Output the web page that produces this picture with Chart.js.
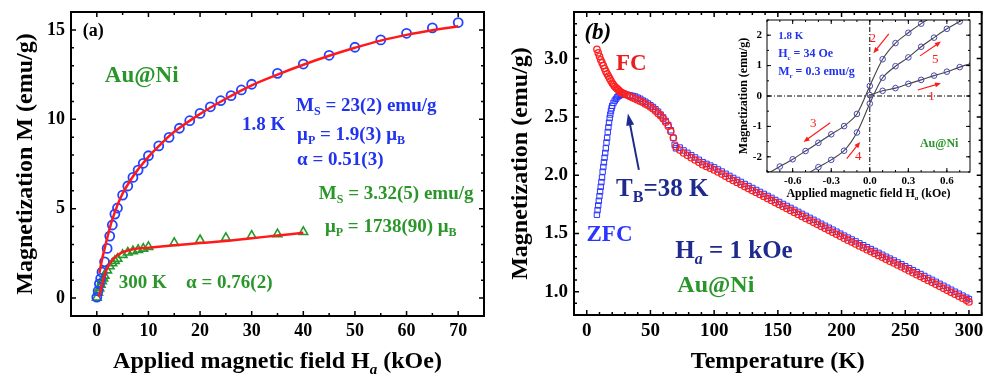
<!DOCTYPE html>
<html>
<head>
<meta charset="utf-8">
<script src="https://cdn.jsdelivr.net/npm/chart.js@4.4.1/dist/chart.umd.min.js"></script>
<style>
html, body { margin: 0; padding: 0; background: #fff; }
#wrap { position: relative; width: 987px; height: 376px; overflow: hidden; }
canvas { position: absolute; }
</style>
</head>
<body>
<div id="wrap">
  <canvas id="panelA" width="495" height="376" style="left:0px;top:0px"></canvas>
  <canvas id="panelB" width="492" height="376" style="left:495px;top:0px"></canvas>
  <canvas id="inset" width="257" height="205" style="left:730px;top:0px"></canvas>
</div>
<script>
// ---- panel (a): M vs H ----
const field18 = [0, 0.25, 0.5, 0.75, 1, 1.5, 2, 2.5, 3, 3.5, 4, 5, 6, 7, 8, 9, 10, 12, 14, 16, 18, 20, 22, 24, 26, 28, 30, 35, 40, 45, 50, 55, 60, 65, 70]
const mag18 = [0.05, 0.4, 0.8, 1.1, 1.45, 2.03, 2.78, 3.47, 4.09, 4.7, 5.04, 5.76, 6.27, 6.75, 7.16, 7.54, 7.96, 8.51, 8.99, 9.5, 9.92, 10.33, 10.7, 11.04, 11.32, 11.64, 11.96, 12.57, 13.09, 13.58, 14.03, 14.44, 14.81, 15.11, 15.41]
const fitField18 = [0.5, 1, 1.5, 2, 2.5, 3, 4, 5, 6, 7, 8, 10, 12, 15, 20, 25, 30, 35, 40, 45, 50, 55, 60, 65, 70]
const fitMag18 = [1.4, 2.15, 2.75, 3.35, 3.9, 4.4, 5.2, 5.85, 6.35, 6.8, 7.2, 7.9, 8.5, 9.3, 10.3, 11.15, 11.9, 12.5, 13.05, 13.55, 14.0, 14.4, 14.72, 14.98, 15.2]

const field300 = [0, 0.25, 0.5, 0.75, 1, 1.25, 1.5, 2, 2.5, 3, 3.5, 4, 5, 6, 7, 8, 9, 10, 15, 20, 25, 30, 35, 40]
const mag300 = [0.03, 0.3, 0.55, 0.75, 0.95, 1.1, 1.25, 1.55, 1.78, 1.95, 2.08, 2.2, 2.42, 2.55, 2.63, 2.7, 2.77, 2.86, 3.09, 3.25, 3.37, 3.49, 3.58, 3.7]
const fitField300 = [0.4, 0.9, 1.4, 1.9, 2.5, 3.5, 4.8, 7, 10, 15, 20, 25, 30, 35, 40]
const fitMag300 = [0.07, 0.63, 1.19, 1.6, 1.94, 2.28, 2.54, 2.73, 2.82, 2.95, 3.08, 3.2, 3.35, 3.5, 3.65]

const ticksAx = [0, 10, 20, 30, 40, 50, 60, 70]
const ticksAy = [0, 5, 10, 15]

// ---- panel (b): FC / ZFC ----
const tempFC = [8, 9, 10, 11, 12, 13, 14, 15, 16, 17, 18, 19, 20, 21, 22, 23, 24, 25, 26, 27, 28, 29, 30,
  32, 34, 36, 38, 40, 42, 44, 46, 48, 50, 52, 54, 56, 58, 60, 62, 64, 66, 68, 70]
const magFC = [3.08, 3.05, 3.02, 2.99, 2.965, 2.94, 2.915, 2.89, 2.87, 2.85, 2.83, 2.81, 2.79, 2.775, 2.76, 2.75, 2.74, 2.73, 2.72, 2.71, 2.705, 2.70, 2.695,
  2.685, 2.675, 2.665, 2.655, 2.645, 2.635, 2.625, 2.61, 2.60, 2.585, 2.57, 2.55, 2.53, 2.51, 2.485, 2.455, 2.42, 2.375, 2.32, 2.245]
const tempZFC = [8, 8.5, 9, 9.5, 10, 10.5, 11, 11.5, 12, 12.5, 13, 13.5, 14, 14.5, 15, 15.5, 16, 16.5, 17, 17.5, 18, 18.5, 19, 19.5, 20,
  21, 22, 23, 24, 25, 26, 27, 28, 29, 30,
  32, 34, 36, 38, 40, 42, 44, 46, 48, 50, 52, 54, 56, 58, 60, 62, 64, 66, 68, 69, 70]
const magZFC = [1.66, 1.70, 1.74, 1.78, 1.82, 1.86, 1.9, 1.94, 1.98, 2.03, 2.07, 2.11, 2.15, 2.19, 2.23, 2.28, 2.32, 2.37, 2.41, 2.45, 2.49, 2.52, 2.55, 2.575, 2.595,
  2.62, 2.64, 2.655, 2.67, 2.68, 2.685, 2.69, 2.695, 2.695, 2.695,
  2.69, 2.685, 2.68, 2.675, 2.665, 2.655, 2.64, 2.63, 2.615, 2.6, 2.585, 2.565, 2.545, 2.52, 2.495, 2.465, 2.43, 2.385, 2.32, 2.26, 2.23]

const tempHigh = [73, 76, 79, 82, 85, 88, 91, 94, 97, 100,
  103, 106, 109, 112, 115, 118, 121, 124, 127, 130,
  133, 136, 139, 142, 145, 148, 151, 154, 157, 160,
  163, 166, 169, 172, 175, 178, 181, 184, 187, 190,
  193, 196, 199, 202, 205, 208, 211, 214, 217, 220,
  223, 226, 229, 232, 235, 238, 241, 244, 247, 250,
  253, 256, 259, 262, 265, 268, 271, 274, 277, 280,
  283, 286, 289, 292, 295, 298, 300]
const magFCHigh = [2.215, 2.19, 2.17, 2.15, 2.13, 2.11, 2.09, 2.075, 2.06, 2.045,
  2.027, 2.009, 1.99, 1.972, 1.954, 1.937, 1.92, 1.902, 1.885, 1.868,
  1.851, 1.834, 1.817, 1.8, 1.783, 1.765, 1.748, 1.731, 1.714, 1.697,
  1.68, 1.663, 1.646, 1.629, 1.612, 1.595, 1.578, 1.561, 1.544, 1.527,
  1.51, 1.493, 1.476, 1.459, 1.442, 1.426, 1.41, 1.393, 1.377, 1.36,
  1.344, 1.328, 1.311, 1.295, 1.278, 1.262, 1.246, 1.229, 1.213, 1.196,
  1.18, 1.163, 1.146, 1.13, 1.113, 1.096, 1.08, 1.063, 1.046, 1.029,
  1.012, 0.995, 0.978, 0.961, 0.944, 0.927, 0.912]
const magZFCHigh = [2.237, 2.212, 2.192, 2.172, 2.152, 2.132, 2.112, 2.097, 2.082, 2.067,
  2.049, 2.031, 2.012, 1.994, 1.976, 1.959, 1.942, 1.924, 1.907, 1.89,
  1.873, 1.856, 1.839, 1.822, 1.805, 1.787, 1.77, 1.753, 1.736, 1.719,
  1.702, 1.685, 1.668, 1.651, 1.634, 1.617, 1.6, 1.583, 1.566, 1.549,
  1.532, 1.515, 1.498, 1.481, 1.464, 1.448, 1.432, 1.415, 1.399, 1.382,
  1.366, 1.35, 1.333, 1.317, 1.3, 1.284, 1.268, 1.251, 1.235, 1.218,
  1.202, 1.185, 1.168, 1.152, 1.135, 1.118, 1.102, 1.085, 1.068, 1.051,
  1.034, 1.017, 1.0, 0.983, 0.966, 0.949, 0.937]

const ticksBx = [0, 50, 100, 150, 200, 250, 300]
const ticksBy = [1.0, 1.5, 2.0, 2.5, 3.0]

// ---- inset: hysteresis loop at 1.8 K ----
const loopField1 = [0, 0.1, 0.2, 0.3, 0.4, 0.5, 0.6, 0.7, 0.8]
const loopMag1 = [0.03, 0.17, 0.26, 0.4, 0.53, 0.67, 0.8, 0.95, 1.08]
const loopField2 = [0.5, 0.4, 0.3, 0.2, 0.1, 0, -0.1, -0.2, -0.3, -0.4, -0.5, -0.6, -0.7, -0.8]
const loopMag2 = [2.65, 2.38, 2.08, 1.74, 1.21, 0.33, -0.59, -0.99, -1.26, -1.54, -1.81, -2.08, -2.32, -2.56]
const loopField3 = [-0.5, -0.4, -0.3, -0.2, -0.1, 0, 0.1, 0.2, 0.3, 0.4, 0.5, 0.6, 0.7, 0.8]
const loopMag3 = [-2.6, -2.34, -2.1, -1.8, -1.2, -0.25, 0.6, 0.98, 1.27, 1.62, 1.92, 2.21, 2.45, 2.7]

const ticksIx = [-0.6, -0.3, 0, 0.3, 0.6]
const ticksIy = [-2, -1, 0, 1, 2]

const SERIF = '"Liberation Serif", "Times New Roman", serif'
const RED = '#ff1a1a'
const BLUE = '#2233ee'
const GREEN = '#2a962a'
const NAVY = '#1f2a8f'

Chart.defaults.font.family = SERIF
Chart.defaults.color = '#000'

const pairs = (xs, ys) => xs.map((v, i) => ({ x: v, y: ys[i] }))

// text with _{sub} and _[italic sub]
function richParts(str) {
    const parts = []
    const re = /_\{([^}]*)\}|_\[([^\]]*)\]/g
    let last = 0, m
    while ((m = re.exec(str)) !== null) {
        if (m.index > last) parts.push({ t: str.slice(last, m.index) })
        if (m[1] !== undefined) parts.push({ t: m[1], sub: true })
        else parts.push({ t: m[2], sub: true, italic: true })
        last = re.lastIndex
    }
    if (last < str.length) parts.push({ t: str.slice(last) })
    return parts
}

function fontFor(p, n) {
    const size = p.sub ? Math.round(n.size * 0.62) : n.size
    const style = (p.italic || n.italic) ? 'italic ' : ''
    return `${style}${n.weight || 'bold'} ${size}px ${SERIF}`
}

function drawRich(ctx, n, x, y) {
    const parts = richParts(n.text)
    let w = 0
    parts.forEach(p => { ctx.font = fontFor(p, n); p.w = ctx.measureText(p.t).width; w += p.w })
    let cx = n.align === 'center' ? x - w / 2 : x
    ctx.fillStyle = n.color || '#000'
    ctx.textAlign = 'left'
    ctx.textBaseline = 'middle'
    parts.forEach(p => {
        ctx.font = fontFor(p, n)
        ctx.fillText(p.t, cx, p.sub ? y + n.size * 0.32 : y)
        cx += p.w
    })
}

function drawArrow(ctx, x1, y1, x2, y2, a) {
    const ang = Math.atan2(y2 - y1, x2 - x1)
    const L = a.head, W = a.headWidth
    const c = Math.cos(ang), s = Math.sin(ang)
    ctx.strokeStyle = a.color
    ctx.fillStyle = a.color
    ctx.lineWidth = a.width
    ctx.beginPath()
    ctx.moveTo(x1, y1)
    ctx.lineTo(x2 - L * 0.7 * c, y2 - L * 0.7 * s)
    ctx.stroke()
    ctx.beginPath()
    ctx.moveTo(x2, y2)
    ctx.lineTo(x2 - L * c + W * s, y2 - L * s - W * c)
    ctx.lineTo(x2 - L * c - W * s, y2 - L * s + W * c)
    ctx.closePath()
    ctx.fill()
}

function steps(min, max, step) {
    const out = []
    for (let v = Math.ceil(min / step - 1e-9) * step; v <= max + 1e-9; v += step) out.push(v)
    return out
}

const framePlugin = {
    id: 'frame',
    beforeDraw(chart, args, o) {
        if (!o.fill) return
        const a = chart.chartArea
        chart.ctx.save()
        chart.ctx.fillStyle = o.fill
        chart.ctx.fillRect(a.left, a.top, a.right - a.left, a.bottom - a.top)
        chart.ctx.restore()
    },
    afterDraw(chart, args, o) {
        const { ctx, chartArea: a, scales: { x, y } } = chart
        ctx.save()
        ctx.strokeStyle = '#000'
        ctx.lineWidth = o.tickWidth
        ctx.beginPath()
        const tx = (v, len) => {
            const p = x.getPixelForValue(v)
            ctx.moveTo(p, a.bottom); ctx.lineTo(p, a.bottom - len)
            ctx.moveTo(p, a.top); ctx.lineTo(p, a.top + len)
        }
        const ty = (v, len) => {
            const p = y.getPixelForValue(v)
            ctx.moveTo(a.left, p); ctx.lineTo(a.left + len, p)
            ctx.moveTo(a.right, p); ctx.lineTo(a.right - len, p)
        }
        steps(x.min, x.max, o.xMinor).forEach(v => tx(v, o.minor))
        steps(y.min, y.max, o.yMinor).forEach(v => ty(v, o.minor))
        x.ticks.forEach(t => tx(t.value, o.major))
        y.ticks.forEach(t => ty(t.value, o.major))
        ctx.stroke()
        ctx.lineWidth = o.lineWidth
        ctx.strokeRect(a.left, a.top, a.right - a.left, a.bottom - a.top)
        ctx.restore()
    }
}

const notesPlugin = {
    id: 'notes',
    afterDraw(chart, args, o) {
        const { ctx, chartArea: a, scales: { x, y } } = chart
        ctx.save();
        (o.arrows || []).forEach(ar => {
            drawArrow(ctx, x.getPixelForValue(ar.from[0]), y.getPixelForValue(ar.from[1]),
                x.getPixelForValue(ar.to[0]), y.getPixelForValue(ar.to[1]), ar)
        });
        (o.labels || []).forEach(n => drawRich(ctx, n, x.getPixelForValue(n.x), y.getPixelForValue(n.y)));
        (o.titles || []).forEach(n => drawRich(ctx, n, (a.left + a.right) / 2, a.bottom + n.below))
        ctx.restore()
    }
}

function axis(o) {
    return {
        type: 'linear',
        min: o.min,
        max: o.max,
        afterBuildTicks: s => { s.ticks = o.ticks.map(v => ({ value: v })) },
        afterFit: s => {
            if (o.height !== undefined) s.height = o.height
            if (o.width !== undefined) s.width = o.width
            s.paddingLeft = 0; s.paddingRight = 0; s.paddingTop = 0; s.paddingBottom = 0
        },
        grid: { display: false, drawTicks: false },
        border: { display: false },
        ticks: {
            autoSkip: false, maxRotation: 0, color: '#000', padding: o.pad,
            font: { size: o.font, weight: 'bold' },
            callback: o.fmt
        },
        title: o.title ? {
            display: true, text: o.title, color: '#000',
            font: { size: o.titleSize, weight: 'bold' },
            padding: o.titlePad
        } : { display: false }
    }
}

const base = {
    responsive: false,
    animation: false,
    devicePixelRatio: 1,
    events: []
}

// panel (a)
new Chart(document.getElementById('panelA'), {
    type: 'scatter',
    data: {
        datasets: [
            { data: pairs(fitField18, fitMag18), showLine: true, borderColor: RED, borderWidth: 2.5, pointRadius: 0, tension: 0.4 },
            { data: pairs(fitField300, fitMag300), showLine: true, borderColor: RED, borderWidth: 2.5, pointRadius: 0, tension: 0.4 },
            { data: pairs(field18, mag18), pointStyle: 'circle', pointRadius: 4.5, borderColor: '#2244ff', pointBorderWidth: 1.8, backgroundColor: 'rgba(0,0,0,0)' },
            { data: pairs(field300, mag300), pointStyle: 'triangle', pointRadius: 5, borderColor: '#22992a', pointBorderWidth: 1.6, backgroundColor: 'rgba(0,0,0,0)' }
        ]
    },
    options: {
        ...base,
        layout: { padding: { left: 0, top: 12, right: 11, bottom: 0 } },
        scales: {
            x: axis({ min: -5, max: 75, ticks: ticksAx, height: 60, pad: 5, font: 18, fmt: v => v }),
            y: axis({ min: -1, max: 16, ticks: ticksAy, width: 71, pad: 6, font: 18, fmt: v => v,
                title: 'Magnetization M (emu/g)', titleSize: 24, titlePad: { top: 11.6, bottom: 0 } })
        },
        plugins: {
            legend: { display: false },
            tooltip: { enabled: false },
            frame: { lineWidth: 2, tickWidth: 1.5, major: 5, minor: 3, xMinor: 5, yMinor: 1 },
            notes: {
                labels: [
                    { text: '(a)', x: -2.7, y: 14.94, size: 18, color: '#000' },
                    { text: 'Au@Ni', x: 1.55, y: 12.42, size: 23, color: GREEN },
                    { text: '1.8 K', x: 28.1, y: 9.68, size: 19, color: BLUE },
                    { text: 'M_{S} = 23(2) emu/g', x: 38.6, y: 10.74, size: 19, color: BLUE },
                    { text: 'μ_{P} = 1.9(3) μ_{B}', x: 38.8, y: 9.12, size: 19, color: BLUE },
                    { text: 'α = 0.51(3)', x: 38.8, y: 7.72, size: 19, color: BLUE },
                    { text: 'M_{S} = 3.32(5) emu/g', x: 43.0, y: 5.82, size: 19, color: GREEN },
                    { text: 'μ_{P} = 1738(90) μ_{B}', x: 44.2, y: 3.97, size: 19, color: GREEN },
                    { text: '300 K', x: 4.27, y: 0.84, size: 19, color: GREEN },
                    { text: 'α = 0.76(2)', x: 17.3, y: 0.84, size: 19, color: GREEN }
                ],
                titles: [
                    { text: 'Applied magnetic field H_[a] (kOe)', size: 24, align: 'center', below: 46 }
                ]
            }
        }
    },
    plugins: [framePlugin, notesPlugin]
})

// panel (b)
new Chart(document.getElementById('panelB'), {
    type: 'scatter',
    data: {
        datasets: [
            { data: pairs(tempFC.concat(tempHigh), magFC.concat(magFCHigh)), pointStyle: 'circle', pointRadius: 3.2, borderColor: '#ff2020', pointBorderWidth: 1.3, backgroundColor: 'rgba(0,0,0,0)' },
            { data: pairs(tempZFC.concat(tempHigh), magZFC.concat(magZFCHigh)), pointStyle: 'rect', pointRadius: 3.8, borderColor: '#2a35ff', pointBorderWidth: 1, backgroundColor: 'rgba(0,0,0,0)' }
        ]
    },
    options: {
        ...base,
        layout: { padding: { left: 0, top: 12, right: 1, bottom: 0 } },
        scales: {
            x: axis({ min: -10, max: 310, ticks: ticksBx, height: 61, pad: 5, font: 19, fmt: v => v,
                title: 'Temperature (K)', titleSize: 24, titlePad: { top: 0, bottom: 0 } }),
            y: axis({ min: 0.8, max: 3.4, ticks: ticksBy, width: 79, pad: 6, font: 19, fmt: v => v.toFixed(1),
                title: 'Magnetization (emu/g)', titleSize: 24, titlePad: { top: 11.6, bottom: 0 } })
        },
        plugins: {
            legend: { display: false },
            tooltip: { enabled: false },
            frame: { lineWidth: 2, tickWidth: 1.5, major: 5, minor: 3, xMinor: 10, yMinor: 0.1 },
            notes: {
                arrows: [
                    { from: [40.9, 2.045], to: [32.3, 2.53], color: NAVY, width: 2, head: 12, headWidth: 4 }
                ],
                labels: [
                    { text: '(b)', x: -1.8, y: 3.217, size: 23, italic: true, color: '#000' },
                    { text: 'FC', x: 23.0, y: 2.956, size: 23, color: '#ee1c1c' },
                    { text: 'ZFC', x: -0.2, y: 1.484, size: 23, color: '#2a35ff' },
                    { text: 'T_{B}=38 K', x: 23.0, y: 1.873, size: 25, color: NAVY },
                    { text: 'H_[a] = 1 kOe', x: 69.5, y: 1.342, size: 25, color: NAVY },
                    { text: 'Au@Ni', x: 71.1, y: 1.051, size: 24, color: GREEN }
                ]
            }
        }
    },
    plugins: [framePlugin, notesPlugin]
})

// inset
const loopLine = { showLine: true, borderColor: '#444', borderWidth: 1.1, tension: 0.3, pointStyle: 'circle', pointRadius: 2.8, pointBorderColor: '#4646b4', pointBorderWidth: 1, pointBackgroundColor: 'rgba(0,0,0,0)', clip: 0 }
new Chart(document.getElementById('inset'), {
    type: 'scatter',
    data: {
        datasets: [
            { ...loopLine, data: pairs(loopField1, loopMag1) },
            { ...loopLine, data: pairs(loopField2, loopMag2) },
            { ...loopLine, data: pairs(loopField3, loopMag3) },
            { data: [{ x: -0.8, y: 0 }, { x: 0.78, y: 0 }], showLine: true, borderColor: '#000', borderWidth: 1, borderDash: [5, 2, 1, 2], pointRadius: 0 },
            { data: [{ x: 0, y: -2.5 }, { x: 0, y: 2.5 }], showLine: true, borderColor: '#000', borderWidth: 1, borderDash: [5, 2, 1, 2], pointRadius: 0 }
        ]
    },
    options: {
        ...base,
        layout: { padding: { left: 0, top: 20, right: 17, bottom: 0 } },
        scales: {
            x: axis({ min: -0.8, max: 0.78, ticks: ticksIx, height: 33, pad: 3, font: 11, fmt: v => v.toFixed(1) }),
            y: axis({ min: -2.5, max: 2.5, ticks: ticksIy, width: 37, pad: 5, font: 11, fmt: v => v,
                title: 'Magnetization (emu/g)', titleSize: 12, titlePad: { top: 6.8, bottom: 0 } })
        },
        plugins: {
            legend: { display: false },
            tooltip: { enabled: false },
            frame: { fill: '#fff', lineWidth: 1, tickWidth: 1, major: 4, minor: 2, xMinor: 0.1, yMinor: 0.5 },
            notes: {
                arrows: [
                    { from: [0.373, 0.198], to: [0.554, 0.419], color: RED, width: 1.2, head: 6, headWidth: 2.5 },
                    { from: [0.148, 2.046], to: [0.028, 1.41], color: RED, width: 1.2, head: 6, headWidth: 2.5 },
                    { from: [-0.308, -0.88], to: [-0.516, -1.51], color: RED, width: 1.2, head: 6, headWidth: 2.5 },
                    { from: [-0.179, -2.06], to: [-0.075, -1.51], color: RED, width: 1.2, head: 6, headWidth: 2.5 },
                    { from: [0.391, 1.32], to: [0.554, 1.79], color: RED, width: 1.2, head: 6, headWidth: 2.5 }
                ],
                labels: [
                    { text: '1.8 K', x: -0.713, y: 1.98, size: 11, color: BLUE },
                    { text: 'H_{c} = 34 Oe', x: -0.713, y: 1.386, size: 12, color: BLUE },
                    { text: 'M_{r} = 0.3 emu/g', x: -0.713, y: 0.79, size: 12, color: BLUE },
                    { text: 'Au@Ni', x: 0.39, y: -1.58, size: 12, color: GREEN },
                    { text: '1', x: 0.48, y: -0.02, size: 13, weight: 'normal', align: 'center', color: RED },
                    { text: '2', x: 0.023, y: 1.9, size: 13, weight: 'normal', align: 'center', color: RED },
                    { text: '3', x: -0.44, y: -0.9, size: 13, weight: 'normal', align: 'center', color: RED },
                    { text: '4', x: -0.09, y: -2.0, size: 13, weight: 'normal', align: 'center', color: RED },
                    { text: '5', x: 0.51, y: 1.19, size: 13, weight: 'normal', align: 'center', color: RED }
                ],
                titles: [
                    { text: 'Applied magnetic field H_[a] (kOe)', size: 12, align: 'center', below: 22 }
                ]
            }
        }
    },
    plugins: [framePlugin, notesPlugin]
})
</script>
</body>
</html>
